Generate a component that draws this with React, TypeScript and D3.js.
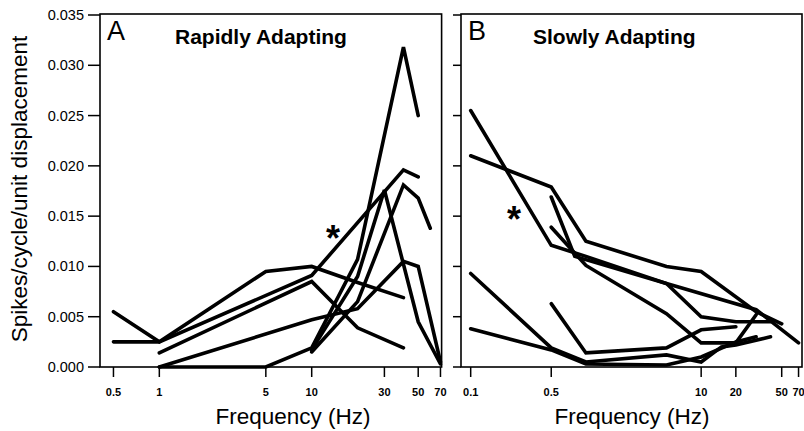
import React from "react";
import * as d3 from "d3";

// ---------- data ----------
const yTicks = [0, 0.005, 0.01, 0.015, 0.02, 0.025, 0.03, 0.035];
const xTicksA = [0.5, 1, 5, 10, 30, 50, 70];
const xTicksB = [0.1, 0.5, 10, 20, 50, 70];

// Rapidly adapting units: [frequency Hz, spikes/cycle/unit displacement]
const ra1: [number, number][] = [[0.5, 0.0055], [1, 0.0025], [5, 0.0095], [10, 0.0100], [20, 0.0084], [40, 0.0069]];
const ra2: [number, number][] = [[0.5, 0.0025], [1, 0.0025], [10, 0.0091], [40, 0.0196], [50, 0.0189]];
const ra3: [number, number][] = [[1, 0.0014], [10, 0.0085], [20, 0.0039], [40, 0.0019]];
const ra4: [number, number][] = [[1, 0.0], [10, 0.0047], [20, 0.0058], [40, 0.0105], [50, 0.0100], [70, 0.0005]];
const ra5: [number, number][] = [[1, 0.0], [5, 0.0], [10, 0.0019], [20, 0.0107], [40, 0.0318], [50, 0.0250]];
const ra6: [number, number][] = [[10, 0.0017], [20, 0.0090], [30, 0.0176], [50, 0.0045], [70, 0.0003]];
const ra7: [number, number][] = [[10, 0.0015], [20, 0.0065], [40, 0.0181], [50, 0.0168], [60, 0.0138]];

// Slowly adapting units
const sa1: [number, number][] = [[0.1, 0.0255], [0.5, 0.0121], [1, 0.0110], [5, 0.0083], [10, 0.0050], [20, 0.0045], [40, 0.0045]];
const sa2: [number, number][] = [[0.1, 0.0210], [0.5, 0.0179], [1, 0.0125], [5, 0.0100], [10, 0.0095], [30, 0.0055], [50, 0.0043]];
const sa3: [number, number][] = [[0.5, 0.0169], [0.8, 0.0110], [5, 0.0083], [30, 0.0057], [70, 0.0024]];
const sa4: [number, number][] = [[0.5, 0.0139], [1, 0.0101], [5, 0.0053], [10, 0.0024], [20, 0.0024], [30, 0.0052]];
const sa5: [number, number][] = [[0.1, 0.0093], [0.5, 0.0019], [1, 0.0005], [5, 0.0012], [10, 0.0005], [15, 0.0020], [20, 0.0022], [40, 0.0030]];
const sa6: [number, number][] = [[0.1, 0.0038], [0.5, 0.0017], [1, 0.0003], [5, 0.0002], [10, 0.0010], [20, 0.0025], [30, 0.0030]];
const sa7: [number, number][] = [[0.5, 0.0063], [1, 0.0014], [5, 0.0019], [10, 0.0037], [20, 0.0040]];

const raSeries = [ra1, ra2, ra3, ra4, ra5, ra6, ra7];
const saSeries = [sa1, sa2, sa3, sa4, sa5, sa6, sa7];

const FONT = "'Liberation Sans', Arial, Helvetica, sans-serif";

export default function App() {
  const W = 804, H = 431;
  const top = 15, bottom = 367;
  const y = d3.scaleLinear().domain([0, 0.035]).range([bottom, top]);
  const xA = d3.scaleLog().domain([0.408, 71.2]).range([100, 441.6]);
  const xB = d3.scaleLog().domain([0.0824, 75]).range([461, 802]);

  const lineFor = (x: d3.ScaleLogarithmic<number, number>) =>
    d3.line<[number, number]>().x(d => x(d[0])).y(d => y(d[1]));

  const panel = (
    x: d3.ScaleLogarithmic<number, number>,
    ticks: number[],
    series: [number, number][][],
    key: string,
    letter: string,
    title: string,
    titleX: number,
    star: [number, number],
    axisTitleX: number
  ) => {
    const [x0, x1] = x.range();
    const ln = lineFor(x);
    return (
      <g key={key}>
        <rect x={x0} y={14} width={x1 - x0} height={bottom - 14} fill="none" stroke="#000" strokeWidth={1.6} />
        {yTicks.map(t => (
          <line key={"yt" + t} x1={x0 - (key === "A" ? 12 : 8)} x2={x0} y1={y(t)} y2={y(t)} stroke="#000" strokeWidth={1.5} />
        ))}
        {ticks.map(t => (
          <g key={"xt" + t}>
            <line x1={x(t)} x2={x(t)} y1={bottom} y2={bottom + 10} stroke="#000" strokeWidth={1.5} />
            <text x={x(t)} y={396} textAnchor="middle" fontFamily={FONT} fontSize={11} fontWeight="bold">{String(t)}</text>
          </g>
        ))}
        {series.map((s, i) => (
          <path key={key + i} d={ln(s) || ""} fill="none" stroke="#000" strokeWidth={3.6} strokeLinejoin="miter" strokeMiterlimit={3} strokeLinecap="round" />
        ))}
        <text x={x0 + 7} y={40} fontFamily={FONT} fontSize={27}>{letter}</text>
        <text x={titleX} y={43.5} fontFamily={FONT} fontSize={21} fontWeight="bold">{title}</text>
        <text x={star[0]} y={star[1]} textAnchor="middle" fontFamily={FONT} fontSize={36} fontWeight="bold">*</text>
        <text x={axisTitleX} y={424} textAnchor="middle" fontFamily={FONT} fontSize={22.5}>Frequency (Hz)</text>
      </g>
    );
  };

  return (
    <div style={{ position: "absolute", left: 0, top: 0 }}>
      <svg width={W} height={H} style={{ display: "block", background: "#fff" }}>
        {yTicks.map(t => (
          <text key={"yl" + t} x={84} y={y(t) + 5} textAnchor="end" fontFamily={FONT} fontSize={14.5}>{t.toFixed(3)}</text>
        ))}
        <text transform={`translate(27,${(top + bottom) / 2 - 2}) rotate(-90)`} textAnchor="middle" fontFamily={FONT} fontSize={22.5}>
          Spikes/cycle/unit displacement
        </text>
        {panel(xA, xTicksA, raSeries, "A", "A", "Rapidly Adapting", 175, [333, 251], 293)}
        {panel(xB, xTicksB, saSeries, "B", "B", "Slowly Adapting", 533, [514, 232], 632)}
      </svg>
    </div>
  );
}
